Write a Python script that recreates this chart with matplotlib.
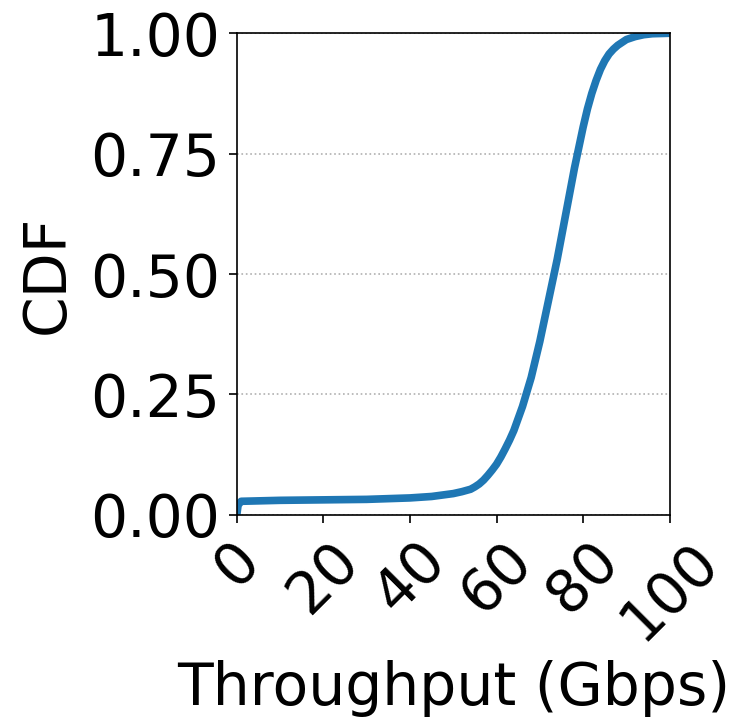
import matplotlib
matplotlib.use("Agg")
import matplotlib.pyplot as plt

throughput = [0, 0.3, 1, 10, 20, 30, 40, 45, 50, 52, 54, 55, 56, 57, 58, 59, 60,
              61, 62, 63, 64, 66, 68, 70, 72, 74, 76, 78, 80, 81, 82, 83, 84, 85,
              86, 87, 88, 90, 92, 94, 96, 100]
cdf = [0, 0.02, 0.028, 0.03, 0.031, 0.032, 0.035, 0.038, 0.044, 0.048, 0.053,
       0.058, 0.064, 0.072, 0.082, 0.093, 0.105, 0.12, 0.137, 0.155, 0.175,
       0.225, 0.285, 0.36, 0.445, 0.53, 0.625, 0.72, 0.805, 0.843, 0.875, 0.902,
       0.925, 0.943, 0.957, 0.967, 0.975, 0.987, 0.993, 0.997, 0.999, 1.0]
xticks = [0, 20, 40, 60, 80, 100]
yticks = [0.00, 0.25, 0.50, 0.75, 1.00]

fig = plt.figure(figsize=(7.4, 7.23), dpi=100)
ax = fig.add_axes([0.320, 0.288, 0.585, 0.666])
ax.plot(throughput, cdf, color="#1f77b4", linewidth=5.5, solid_joinstyle="round")
ax.set_xlim(0, 100)
ax.set_ylim(0, 1)
ax.set_xticks(xticks)
ax.set_yticks(yticks)
ax.set_yticklabels([f"{v:.2f}" for v in yticks])
ax.yaxis.grid(True, linestyle=":", color="#b0b0b0", linewidth=1.2)
ax.tick_params(labelsize=42, length=6, width=1.2, pad=6)
for s in ax.spines.values():
    s.set_linewidth(1.2)
plt.setp(ax.get_xticklabels(), rotation=45)
ax.set_xlabel("Throughput (Gbps)", fontsize=42, labelpad=7)
ax.set_ylabel("CDF", fontsize=42, labelpad=10)
fig.savefig("out.png", dpi=100)
